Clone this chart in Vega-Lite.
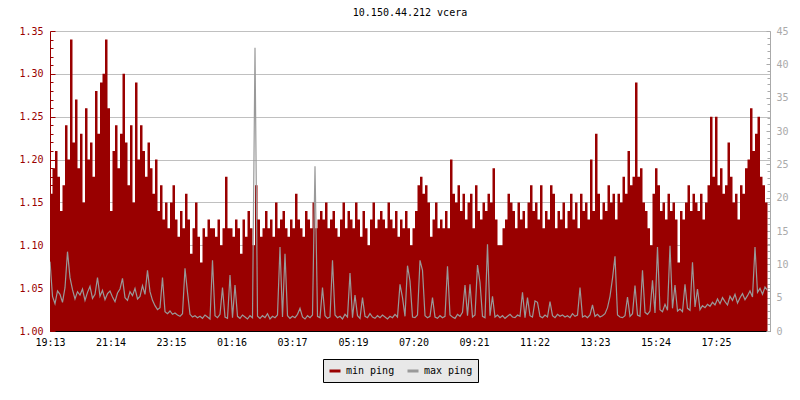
{
"$schema":"https://vega.github.io/schema/vega-lite/v6.json",
"width":720,"height":300,
"autosize":{"type":"none"},
"padding":{"left":50,"top":31,"right":30,"bottom":69},
"background":"white",
"title":{"text":"10.150.44.212 vcera","font":"DejaVu Sans Mono","fontSize":10,"fontWeight":"normal","color":"#000000","offset":8,"anchor":"middle"},
"config":{"view":{"stroke":null},"font":"DejaVu Sans Mono"},
"data":{"values":[
{"t":"2024-01-01T19:13","a":1.16,"b":10.4},{"t":"2024-01-01T19:18","a":1.19,"b":5.2},{"t":"2024-01-01T19:23","a":1.21,"b":4.1},{"t":"2024-01-01T19:28","a":1.18,"b":6.0},{"t":"2024-01-01T19:33","a":1.14,"b":5.5},{"t":"2024-01-01T19:38","a":1.17,"b":4.3},{"t":"2024-01-01T19:43","a":1.24,"b":6.5},{"t":"2024-01-01T19:48","a":1.20,"b":11.9},{"t":"2024-01-01T19:53","a":1.34,"b":8.0},{"t":"2024-01-01T19:58","a":1.22,"b":6.2},{"t":"2024-01-01T20:03","a":1.27,"b":4.8},{"t":"2024-01-01T20:08","a":1.19,"b":5.9},
{"t":"2024-01-01T20:13","a":1.23,"b":5.4},{"t":"2024-01-01T20:18","a":1.15,"b":6.3},{"t":"2024-01-01T20:23","a":1.26,"b":4.6},{"t":"2024-01-01T20:28","a":1.20,"b":5.8},{"t":"2024-01-01T20:33","a":1.22,"b":6.7},{"t":"2024-01-01T20:38","a":1.18,"b":4.9},{"t":"2024-01-01T20:43","a":1.28,"b":5.5},{"t":"2024-01-01T20:48","a":1.23,"b":8.0},{"t":"2024-01-01T20:53","a":1.29,"b":5.2},{"t":"2024-01-01T20:58","a":1.30,"b":6.1},{"t":"2024-01-01T21:03","a":1.34,"b":4.7},{"t":"2024-01-01T21:08","a":1.26,"b":5.6},
{"t":"2024-01-01T21:13","a":1.14,"b":6.0},{"t":"2024-01-01T21:18","a":1.21,"b":5.1},{"t":"2024-01-01T21:23","a":1.24,"b":4.4},{"t":"2024-01-01T21:28","a":1.19,"b":5.7},{"t":"2024-01-01T21:33","a":1.23,"b":6.3},{"t":"2024-01-01T21:38","a":1.30,"b":7.9},{"t":"2024-01-01T21:43","a":1.22,"b":5.0},{"t":"2024-01-01T21:48","a":1.17,"b":4.6},{"t":"2024-01-01T21:53","a":1.24,"b":5.9},{"t":"2024-01-01T21:58","a":1.15,"b":5.3},{"t":"2024-01-01T22:03","a":1.29,"b":6.4},{"t":"2024-01-01T22:08","a":1.20,"b":4.8},
{"t":"2024-01-01T22:13","a":1.24,"b":5.2},{"t":"2024-01-01T22:18","a":1.21,"b":6.8},{"t":"2024-01-01T22:23","a":1.18,"b":5.5},{"t":"2024-01-01T22:28","a":1.22,"b":9.1},{"t":"2024-01-01T22:33","a":1.19,"b":5.9},{"t":"2024-01-01T22:38","a":1.16,"b":4.6},{"t":"2024-01-01T22:43","a":1.20,"b":3.8},{"t":"2024-01-01T22:48","a":1.14,"b":3.2},{"t":"2024-01-01T22:53","a":1.17,"b":3.5},{"t":"2024-01-01T22:58","a":1.13,"b":8.0},{"t":"2024-01-01T23:03","a":1.15,"b":2.9},{"t":"2024-01-01T23:08","a":1.12,"b":2.6},
{"t":"2024-01-01T23:13","a":1.15,"b":3.0},{"t":"2024-01-01T23:18","a":1.17,"b":2.5},{"t":"2024-01-01T23:23","a":1.13,"b":2.7},{"t":"2024-01-01T23:28","a":1.11,"b":2.4},{"t":"2024-01-01T23:33","a":1.14,"b":2.2},{"t":"2024-01-01T23:38","a":1.12,"b":2.6},{"t":"2024-01-01T23:43","a":1.16,"b":9.4},{"t":"2024-01-01T23:48","a":1.13,"b":5.8},{"t":"2024-01-01T23:53","a":1.09,"b":2.5},{"t":"2024-01-01T23:58","a":1.12,"b":2.1},{"t":"2024-01-02T00:03","a":1.15,"b":2.3},{"t":"2024-01-02T00:08","a":1.11,"b":2.0},
{"t":"2024-01-02T00:13","a":1.08,"b":2.2},{"t":"2024-01-02T00:18","a":1.12,"b":1.9},{"t":"2024-01-02T00:23","a":1.11,"b":2.4},{"t":"2024-01-02T00:28","a":1.13,"b":2.1},{"t":"2024-01-02T00:33","a":1.12,"b":1.8},{"t":"2024-01-02T00:38","a":1.12,"b":10.6},{"t":"2024-01-02T00:43","a":1.11,"b":2.3},{"t":"2024-01-02T00:48","a":1.13,"b":2.0},{"t":"2024-01-02T00:53","a":1.10,"b":2.5},{"t":"2024-01-02T00:58","a":1.12,"b":6.5},{"t":"2024-01-02T01:03","a":1.18,"b":2.1},{"t":"2024-01-02T01:08","a":1.12,"b":1.9},
{"t":"2024-01-02T01:13","a":1.12,"b":8.4},{"t":"2024-01-02T01:18","a":1.11,"b":2.0},{"t":"2024-01-02T01:23","a":1.13,"b":6.9},{"t":"2024-01-02T01:28","a":1.12,"b":2.2},{"t":"2024-01-02T01:33","a":1.09,"b":1.9},{"t":"2024-01-02T01:38","a":1.13,"b":2.4},{"t":"2024-01-02T01:43","a":1.11,"b":2.1},{"t":"2024-01-02T01:48","a":1.14,"b":1.8},{"t":"2024-01-02T01:53","a":1.12,"b":2.3},{"t":"2024-01-02T01:58","a":1.10,"b":2.0},{"t":"2024-01-02T02:03","a":1.17,"b":42.5},{"t":"2024-01-02T02:08","a":1.13,"b":2.2},
{"t":"2024-01-02T02:13","a":1.11,"b":1.9},{"t":"2024-01-02T02:18","a":1.12,"b":2.3},{"t":"2024-01-02T02:23","a":1.14,"b":2.0},{"t":"2024-01-02T02:28","a":1.12,"b":2.6},{"t":"2024-01-02T02:33","a":1.13,"b":1.8},{"t":"2024-01-02T02:38","a":1.11,"b":2.2},{"t":"2024-01-02T02:43","a":1.15,"b":2.0},{"t":"2024-01-02T02:48","a":1.12,"b":2.4},{"t":"2024-01-02T02:53","a":1.13,"b":12.6},{"t":"2024-01-02T02:58","a":1.14,"b":2.1},{"t":"2024-01-02T03:03","a":1.12,"b":11.6},{"t":"2024-01-02T03:08","a":1.11,"b":2.3},
{"t":"2024-01-02T03:13","a":1.13,"b":1.9},{"t":"2024-01-02T03:18","a":1.12,"b":2.2},{"t":"2024-01-02T03:23","a":1.16,"b":2.0},{"t":"2024-01-02T03:28","a":1.13,"b":2.5},{"t":"2024-01-02T03:33","a":1.12,"b":3.4},{"t":"2024-01-02T03:38","a":1.11,"b":2.1},{"t":"2024-01-02T03:43","a":1.14,"b":1.8},{"t":"2024-01-02T03:48","a":1.13,"b":2.3},{"t":"2024-01-02T03:53","a":1.12,"b":2.0},{"t":"2024-01-02T03:58","a":1.15,"b":2.4},{"t":"2024-01-02T04:03","a":1.12,"b":24.7},{"t":"2024-01-02T04:08","a":1.13,"b":2.2},
{"t":"2024-01-02T04:13","a":1.14,"b":2.0},{"t":"2024-01-02T04:18","a":1.13,"b":6.5},{"t":"2024-01-02T04:23","a":1.15,"b":2.3},{"t":"2024-01-02T04:28","a":1.12,"b":1.9},{"t":"2024-01-02T04:33","a":1.13,"b":2.1},{"t":"2024-01-02T04:38","a":1.14,"b":10.6},{"t":"2024-01-02T04:43","a":1.12,"b":2.4},{"t":"2024-01-02T04:48","a":1.11,"b":2.0},{"t":"2024-01-02T04:53","a":1.13,"b":2.2},{"t":"2024-01-02T04:58","a":1.15,"b":1.8},{"t":"2024-01-02T05:03","a":1.12,"b":2.5},{"t":"2024-01-02T05:08","a":1.14,"b":2.1},
{"t":"2024-01-02T05:13","a":1.13,"b":8.7},{"t":"2024-01-02T05:18","a":1.12,"b":2.0},{"t":"2024-01-02T05:23","a":1.15,"b":5.4},{"t":"2024-01-02T05:28","a":1.13,"b":2.3},{"t":"2024-01-02T05:33","a":1.11,"b":1.9},{"t":"2024-01-02T05:38","a":1.14,"b":5.0},{"t":"2024-01-02T05:43","a":1.12,"b":2.2},{"t":"2024-01-02T05:48","a":1.10,"b":2.0},{"t":"2024-01-02T05:53","a":1.13,"b":2.6},{"t":"2024-01-02T05:58","a":1.15,"b":2.1},{"t":"2024-01-02T06:03","a":1.12,"b":1.9},{"t":"2024-01-02T06:08","a":1.13,"b":2.3},
{"t":"2024-01-02T06:13","a":1.14,"b":2.0},{"t":"2024-01-02T06:18","a":1.13,"b":2.4},{"t":"2024-01-02T06:23","a":1.12,"b":2.1},{"t":"2024-01-02T06:28","a":1.15,"b":1.8},{"t":"2024-01-02T06:33","a":1.13,"b":2.2},{"t":"2024-01-02T06:38","a":1.12,"b":2.0},{"t":"2024-01-02T06:43","a":1.14,"b":2.5},{"t":"2024-01-02T06:48","a":1.11,"b":2.1},{"t":"2024-01-02T06:53","a":1.13,"b":7.0},{"t":"2024-01-02T06:58","a":1.12,"b":5.0},{"t":"2024-01-02T07:03","a":1.14,"b":2.2},{"t":"2024-01-02T07:08","a":1.12,"b":9.8},
{"t":"2024-01-02T07:13","a":1.10,"b":7.5},{"t":"2024-01-02T07:18","a":1.12,"b":2.1},{"t":"2024-01-02T07:23","a":1.14,"b":2.0},{"t":"2024-01-02T07:28","a":1.17,"b":2.4},{"t":"2024-01-02T07:33","a":1.18,"b":10.6},{"t":"2024-01-02T07:38","a":1.16,"b":9.1},{"t":"2024-01-02T07:43","a":1.17,"b":2.3},{"t":"2024-01-02T07:48","a":1.15,"b":2.0},{"t":"2024-01-02T07:53","a":1.11,"b":2.2},{"t":"2024-01-02T07:58","a":1.13,"b":5.0},{"t":"2024-01-02T08:03","a":1.15,"b":2.1},{"t":"2024-01-02T08:08","a":1.12,"b":1.9},
{"t":"2024-01-02T08:13","a":1.13,"b":2.3},{"t":"2024-01-02T08:18","a":1.12,"b":2.0},{"t":"2024-01-02T08:23","a":1.14,"b":2.2},{"t":"2024-01-02T08:28","a":1.12,"b":9.7},{"t":"2024-01-02T08:33","a":1.20,"b":2.4},{"t":"2024-01-02T08:38","a":1.16,"b":2.1},{"t":"2024-01-02T08:43","a":1.15,"b":1.9},{"t":"2024-01-02T08:48","a":1.17,"b":2.5},{"t":"2024-01-02T08:53","a":1.14,"b":2.2},{"t":"2024-01-02T08:58","a":1.16,"b":2.8},{"t":"2024-01-02T09:03","a":1.13,"b":6.9},{"t":"2024-01-02T09:08","a":1.15,"b":2.3},
{"t":"2024-01-02T09:13","a":1.16,"b":7.0},{"t":"2024-01-02T09:18","a":1.12,"b":2.1},{"t":"2024-01-02T09:23","a":1.17,"b":2.4},{"t":"2024-01-02T09:28","a":1.14,"b":9.9},{"t":"2024-01-02T09:33","a":1.13,"b":7.3},{"t":"2024-01-02T09:38","a":1.15,"b":2.2},{"t":"2024-01-02T09:43","a":1.14,"b":2.0},{"t":"2024-01-02T09:48","a":1.16,"b":13.0},{"t":"2024-01-02T09:53","a":1.15,"b":2.3},{"t":"2024-01-02T09:58","a":1.19,"b":5.2},{"t":"2024-01-02T10:03","a":1.13,"b":2.1},{"t":"2024-01-02T10:08","a":1.10,"b":2.4},
{"t":"2024-01-02T10:13","a":1.10,"b":2.0},{"t":"2024-01-02T10:18","a":1.12,"b":2.3},{"t":"2024-01-02T10:23","a":1.13,"b":1.9},{"t":"2024-01-02T10:28","a":1.16,"b":2.2},{"t":"2024-01-02T10:33","a":1.15,"b":2.5},{"t":"2024-01-02T10:38","a":1.14,"b":2.1},{"t":"2024-01-02T10:43","a":1.12,"b":2.0},{"t":"2024-01-02T10:48","a":1.15,"b":2.4},{"t":"2024-01-02T10:53","a":1.13,"b":2.2},{"t":"2024-01-02T10:58","a":1.14,"b":5.8},{"t":"2024-01-02T11:03","a":1.12,"b":2.0},{"t":"2024-01-02T11:08","a":1.15,"b":5.0},
{"t":"2024-01-02T11:13","a":1.17,"b":2.3},{"t":"2024-01-02T11:18","a":1.14,"b":2.1},{"t":"2024-01-02T11:23","a":1.15,"b":4.5},{"t":"2024-01-02T11:28","a":1.13,"b":4.3},{"t":"2024-01-02T11:33","a":1.17,"b":2.2},{"t":"2024-01-02T11:38","a":1.12,"b":2.0},{"t":"2024-01-02T11:43","a":1.14,"b":2.4},{"t":"2024-01-02T11:48","a":1.13,"b":2.1},{"t":"2024-01-02T11:53","a":1.17,"b":4.4},{"t":"2024-01-02T11:58","a":1.16,"b":2.3},{"t":"2024-01-02T12:03","a":1.12,"b":2.0},{"t":"2024-01-02T12:08","a":1.14,"b":2.5},
{"t":"2024-01-02T12:13","a":1.13,"b":2.2},{"t":"2024-01-02T12:18","a":1.15,"b":2.4},{"t":"2024-01-02T12:23","a":1.12,"b":2.1},{"t":"2024-01-02T12:28","a":1.14,"b":2.3},{"t":"2024-01-02T12:33","a":1.16,"b":2.0},{"t":"2024-01-02T12:38","a":1.13,"b":2.6},{"t":"2024-01-02T12:43","a":1.15,"b":2.2},{"t":"2024-01-02T12:48","a":1.12,"b":2.4},{"t":"2024-01-02T12:53","a":1.16,"b":6.5},{"t":"2024-01-02T12:58","a":1.14,"b":2.1},{"t":"2024-01-02T13:03","a":1.15,"b":2.3},{"t":"2024-01-02T13:08","a":1.13,"b":2.0},
{"t":"2024-01-02T13:13","a":1.20,"b":2.4},{"t":"2024-01-02T13:18","a":1.14,"b":3.9},{"t":"2024-01-02T13:23","a":1.23,"b":2.2},{"t":"2024-01-02T13:28","a":1.16,"b":2.5},{"t":"2024-01-02T13:33","a":1.13,"b":2.1},{"t":"2024-01-02T13:38","a":1.15,"b":2.3},{"t":"2024-01-02T13:43","a":1.14,"b":2.6},{"t":"2024-01-02T13:48","a":1.17,"b":3.5},{"t":"2024-01-02T13:53","a":1.15,"b":5.2},{"t":"2024-01-02T13:58","a":1.16,"b":7.9},{"t":"2024-01-02T14:03","a":1.13,"b":11.2},{"t":"2024-01-02T14:08","a":1.16,"b":2.4},
{"t":"2024-01-02T14:13","a":1.15,"b":2.1},{"t":"2024-01-02T14:18","a":1.18,"b":2.0},{"t":"2024-01-02T14:23","a":1.16,"b":2.3},{"t":"2024-01-02T14:28","a":1.21,"b":5.1},{"t":"2024-01-02T14:33","a":1.17,"b":2.2},{"t":"2024-01-02T14:38","a":1.18,"b":2.6},{"t":"2024-01-02T14:43","a":1.29,"b":6.8},{"t":"2024-01-02T14:48","a":1.18,"b":2.4},{"t":"2024-01-02T14:53","a":1.19,"b":2.2},{"t":"2024-01-02T14:58","a":1.15,"b":9.1},{"t":"2024-01-02T15:03","a":1.14,"b":2.8},{"t":"2024-01-02T15:08","a":1.12,"b":2.5},
{"t":"2024-01-02T15:13","a":1.10,"b":3.0},{"t":"2024-01-02T15:18","a":1.16,"b":7.6},{"t":"2024-01-02T15:23","a":1.19,"b":2.7},{"t":"2024-01-02T15:28","a":1.17,"b":12.6},{"t":"2024-01-02T15:33","a":1.14,"b":3.2},{"t":"2024-01-02T15:38","a":1.15,"b":2.9},{"t":"2024-01-02T15:43","a":1.13,"b":4.0},{"t":"2024-01-02T15:48","a":1.16,"b":3.1},{"t":"2024-01-02T15:53","a":1.14,"b":12.8},{"t":"2024-01-02T15:58","a":1.15,"b":3.4},{"t":"2024-01-02T16:03","a":1.13,"b":6.9},{"t":"2024-01-02T16:08","a":1.08,"b":3.0},
{"t":"2024-01-02T16:13","a":1.14,"b":3.3},{"t":"2024-01-02T16:18","a":1.13,"b":2.9},{"t":"2024-01-02T16:23","a":1.15,"b":7.0},{"t":"2024-01-02T16:28","a":1.17,"b":3.4},{"t":"2024-01-02T16:33","a":1.14,"b":3.1},{"t":"2024-01-02T16:38","a":1.16,"b":10.3},{"t":"2024-01-02T16:43","a":1.15,"b":3.6},{"t":"2024-01-02T16:48","a":1.14,"b":6.3},{"t":"2024-01-02T16:53","a":1.16,"b":3.2},{"t":"2024-01-02T16:58","a":1.13,"b":3.8},{"t":"2024-01-02T17:03","a":1.15,"b":3.5},{"t":"2024-01-02T17:08","a":1.17,"b":4.0},
{"t":"2024-01-02T17:13","a":1.25,"b":3.7},{"t":"2024-01-02T17:18","a":1.18,"b":4.3},{"t":"2024-01-02T17:23","a":1.25,"b":3.9},{"t":"2024-01-02T17:28","a":1.17,"b":4.8},{"t":"2024-01-02T17:33","a":1.19,"b":4.1},{"t":"2024-01-02T17:38","a":1.16,"b":5.0},{"t":"2024-01-02T17:43","a":1.17,"b":4.4},{"t":"2024-01-02T17:48","a":1.22,"b":3.9},{"t":"2024-01-02T17:53","a":1.18,"b":5.2},{"t":"2024-01-02T17:58","a":1.15,"b":4.6},{"t":"2024-01-02T18:03","a":1.16,"b":5.5},{"t":"2024-01-02T18:08","a":1.13,"b":4.2},
{"t":"2024-01-02T18:13","a":1.17,"b":5.0},{"t":"2024-01-02T18:18","a":1.16,"b":5.6},{"t":"2024-01-02T18:23","a":1.19,"b":4.7},{"t":"2024-01-02T18:28","a":1.20,"b":5.3},{"t":"2024-01-02T18:33","a":1.26,"b":6.0},{"t":"2024-01-02T18:38","a":1.21,"b":5.1},{"t":"2024-01-02T18:43","a":1.23,"b":12.6},{"t":"2024-01-02T18:48","a":1.25,"b":5.8},{"t":"2024-01-02T18:53","a":1.18,"b":6.4},{"t":"2024-01-02T18:58","a":1.17,"b":5.5},{"t":"2024-01-02T19:03","a":1.15,"b":6.6},{"t":"2024-01-02T19:08","a":1.18,"b":6.1}
]},
"encoding":{
 "x":{"field":"t","type":"temporal","title":null,
  "scale":{"domain":[{"year":2024,"month":1,"date":1,"hours":19,"minutes":13},{"year":2024,"month":1,"date":2,"hours":19,"minutes":13}]},
  "axis":{"values":[
   {"year":2024,"month":1,"date":1,"hours":19,"minutes":13},
   {"year":2024,"month":1,"date":1,"hours":21,"minutes":14},
   {"year":2024,"month":1,"date":1,"hours":23,"minutes":15},
   {"year":2024,"month":1,"date":2,"hours":1,"minutes":16},
   {"year":2024,"month":1,"date":2,"hours":3,"minutes":17},
   {"year":2024,"month":1,"date":2,"hours":5,"minutes":19},
   {"year":2024,"month":1,"date":2,"hours":7,"minutes":20},
   {"year":2024,"month":1,"date":2,"hours":9,"minutes":21},
   {"year":2024,"month":1,"date":2,"hours":11,"minutes":22},
   {"year":2024,"month":1,"date":2,"hours":13,"minutes":23},
   {"year":2024,"month":1,"date":2,"hours":15,"minutes":24},
   {"year":2024,"month":1,"date":2,"hours":17,"minutes":25}],
   "format":"%H:%M","grid":false,"labelFont":"DejaVu Sans Mono","labelFontSize":10,"labelColor":"#000000",
   "tickColor":"#000000","domainColor":"#000000","tickSize":-5,"labelPadding":11,"labelFlush":false,"labelOverlap":false}}
},
"layer":[
 {"mark":{"type":"area","interpolate":"step-after","clip":true},
  "encoding":{
   "y":{"field":"a","type":"quantitative","title":null,"scale":{"domain":[1,1.35],"zero":false,"nice":false},
    "axis":{"orient":"left","values":[1,1.01,1.02,1.03,1.04,1.05,1.06,1.07,1.08,1.09,1.1,1.11,1.12,1.13,1.14,1.15,1.16,1.17,1.18,1.19,1.2,1.21,1.22,1.23,1.24,1.25,1.26,1.27,1.28,1.29,1.3,1.31,1.32,1.33,1.34,1.35],
     "labelExpr":"round(datum.value*100)%5==0 ? format(datum.value,'.2f') : ''",
     "labelFont":"DejaVu Sans Mono","labelFontSize":10,"labelColor":"#990000","labelPadding":12,
     "tickColor":"#990000","domainColor":"#990000",
     "tickSize":{"condition":{"test":"round(datum.value*100)%5==0","value":-5},"value":-3},
     "grid":true,"gridColor":"#c0c0c0",
     "gridOpacity":{"condition":{"test":"round(datum.value*100)%5==0","value":1},"value":0}}},
   "color":{"datum":"min ping","type":"nominal",
    "scale":{"domain":["min ping","max ping"],"range":["#990000","#999999"]},
    "legend":{"title":null,"orient":"none","legendX":273,"legendY":328,"direction":"horizontal",
     "fillColor":"#e8e8e8","strokeColor":"#000000","padding":5,"symbolType":"stroke","symbolSize":121,"symbolStrokeWidth":3,
     "labelFont":"DejaVu Sans Mono","labelFontSize":10,"labelColor":"#000000","labelOffset":4,"columnPadding":6,
     "encode":{"symbols":{"update":{"stroke":{"scale":"color","field":"value"},"strokeWidth":{"value":3}}}}}}
  }},
 {"mark":{"type":"line","interpolate":"linear","strokeWidth":1.2,"clip":true},
  "encoding":{
   "y":{"field":"b","type":"quantitative","title":null,"scale":{"domain":[0,45],"nice":false},
    "axis":{"orient":"right","values":[0,1,2,3,4,5,6,7,8,9,10,11,12,13,14,15,16,17,18,19,20,21,22,23,24,25,26,27,28,29,30,31,32,33,34,35,36,37,38,39,40,41,42,43,44,45],
     "labelExpr":"datum.value%5==0 ? datum.value : ''",
     "labelFont":"DejaVu Sans Mono","labelFontSize":10,"labelColor":"#aaaaaa","labelPadding":10,
     "tickColor":"#aaaaaa","domainColor":"#aaaaaa",
     "tickSize":{"condition":{"test":"datum.value%5==0","value":-4},"value":-3},
     "grid":false}},
   "color":{"datum":"max ping","type":"nominal"}
  }}
],
"resolve":{"scale":{"y":"independent"}}
}
